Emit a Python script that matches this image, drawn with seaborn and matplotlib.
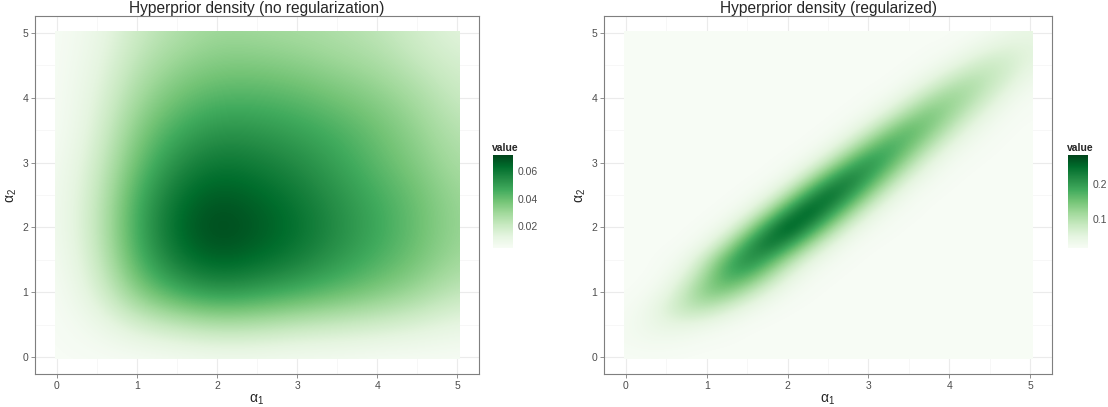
import numpy as np
import matplotlib
matplotlib.use("Agg")
import matplotlib.pyplot as plt
from matplotlib.patches import Rectangle
import seaborn as sns

# grid nodes (alpha_1 along columns, alpha_2 along rows)
alpha_left = [0, 0.5, 1, 1.5, 2, 2.5, 3, 3.5, 4, 4.5, 5]
dens_left = [
    [0.004, 0.004, 0.004, 0.005, 0.006, 0.006, 0.005, 0.005, 0.004, 0.004, 0.004],
    [0.004, 0.008, 0.017, 0.022, 0.026, 0.025, 0.022, 0.020, 0.018, 0.015, 0.011],
    [0.004, 0.015, 0.035, 0.047, 0.053, 0.050, 0.046, 0.041, 0.036, 0.030, 0.022],
    [0.005, 0.019, 0.045, 0.061, 0.067, 0.064, 0.059, 0.052, 0.045, 0.038, 0.029],
    [0.006, 0.021, 0.048, 0.065, 0.072, 0.068, 0.063, 0.055, 0.048, 0.040, 0.031],
    [0.006, 0.020, 0.046, 0.062, 0.068, 0.065, 0.060, 0.053, 0.046, 0.039, 0.030],
    [0.005, 0.018, 0.040, 0.055, 0.061, 0.059, 0.055, 0.049, 0.042, 0.035, 0.027],
    [0.004, 0.015, 0.035, 0.047, 0.053, 0.052, 0.049, 0.045, 0.039, 0.032, 0.024],
    [0.004, 0.013, 0.029, 0.039, 0.044, 0.044, 0.042, 0.038, 0.034, 0.028, 0.020],
    [0.004, 0.011, 0.024, 0.032, 0.036, 0.036, 0.034, 0.031, 0.028, 0.022, 0.017],
    [0.004, 0.009, 0.020, 0.026, 0.030, 0.029, 0.028, 0.026, 0.023, 0.018, 0.013],
]

alpha_right = [0, 0.25, 0.5, 0.75, 1, 1.25, 1.5, 1.75, 2, 2.25, 2.5, 2.75, 3, 3.25, 3.5, 3.75, 4, 4.25, 4.5, 4.75, 5]
dens_right = [
    [0.018, 0.019, 0.019, 0.018, 0.018, 0.018, 0.018, 0.018, 0.018, 0.018, 0.018, 0.018, 0.018, 0.018, 0.018, 0.018, 0.018, 0.018, 0.018, 0.018, 0.018],
    [0.024, 0.028, 0.027, 0.024, 0.020, 0.019, 0.018, 0.018, 0.018, 0.018, 0.018, 0.018, 0.018, 0.018, 0.018, 0.018, 0.018, 0.018, 0.018, 0.018, 0.018],
    [0.024, 0.036, 0.048, 0.046, 0.036, 0.026, 0.020, 0.018, 0.018, 0.018, 0.018, 0.018, 0.018, 0.018, 0.018, 0.018, 0.018, 0.018, 0.018, 0.018, 0.018],
    [0.021, 0.033, 0.064, 0.095, 0.092, 0.064, 0.038, 0.024, 0.019, 0.018, 0.018, 0.018, 0.018, 0.018, 0.018, 0.018, 0.018, 0.018, 0.018, 0.018, 0.018],
    [0.018, 0.023, 0.043, 0.094, 0.145, 0.138, 0.094, 0.050, 0.027, 0.020, 0.018, 0.018, 0.018, 0.018, 0.018, 0.018, 0.018, 0.018, 0.018, 0.018, 0.018],
    [0.018, 0.018, 0.027, 0.061, 0.130, 0.190, 0.173, 0.112, 0.052, 0.027, 0.020, 0.018, 0.018, 0.018, 0.018, 0.018, 0.018, 0.018, 0.018, 0.018, 0.018],
    [0.018, 0.018, 0.021, 0.035, 0.092, 0.177, 0.230, 0.188, 0.114, 0.050, 0.027, 0.020, 0.018, 0.018, 0.018, 0.018, 0.018, 0.018, 0.018, 0.018, 0.018],
    [0.018, 0.018, 0.018, 0.021, 0.038, 0.102, 0.199, 0.260, 0.212, 0.126, 0.055, 0.027, 0.020, 0.018, 0.018, 0.018, 0.018, 0.018, 0.018, 0.018, 0.018],
    [0.018, 0.018, 0.018, 0.018, 0.022, 0.039, 0.109, 0.213, 0.283, 0.226, 0.135, 0.057, 0.028, 0.021, 0.018, 0.018, 0.018, 0.018, 0.018, 0.018, 0.018],
    [0.018, 0.018, 0.018, 0.018, 0.018, 0.022, 0.039, 0.108, 0.211, 0.278, 0.224, 0.134, 0.057, 0.028, 0.021, 0.018, 0.018, 0.018, 0.018, 0.018, 0.018],
    [0.018, 0.018, 0.018, 0.018, 0.018, 0.018, 0.022, 0.038, 0.104, 0.203, 0.265, 0.216, 0.129, 0.056, 0.027, 0.020, 0.018, 0.018, 0.018, 0.018, 0.018],
    [0.018, 0.018, 0.018, 0.018, 0.018, 0.018, 0.018, 0.021, 0.036, 0.098, 0.189, 0.245, 0.199, 0.120, 0.052, 0.028, 0.020, 0.018, 0.018, 0.018, 0.018],
    [0.018, 0.018, 0.018, 0.018, 0.018, 0.018, 0.018, 0.018, 0.021, 0.034, 0.088, 0.169, 0.220, 0.180, 0.109, 0.048, 0.026, 0.020, 0.018, 0.018, 0.018],
    [0.018, 0.018, 0.018, 0.018, 0.018, 0.018, 0.018, 0.018, 0.018, 0.020, 0.032, 0.080, 0.151, 0.195, 0.159, 0.098, 0.045, 0.026, 0.020, 0.018, 0.018],
    [0.018, 0.018, 0.018, 0.018, 0.018, 0.018, 0.018, 0.018, 0.018, 0.018, 0.020, 0.031, 0.073, 0.136, 0.175, 0.143, 0.089, 0.042, 0.025, 0.019, 0.018],
    [0.018, 0.018, 0.018, 0.018, 0.018, 0.018, 0.018, 0.018, 0.018, 0.018, 0.018, 0.020, 0.029, 0.064, 0.118, 0.152, 0.125, 0.078, 0.039, 0.023, 0.019],
    [0.018, 0.018, 0.018, 0.018, 0.018, 0.018, 0.018, 0.018, 0.018, 0.018, 0.018, 0.018, 0.020, 0.027, 0.058, 0.103, 0.130, 0.108, 0.069, 0.034, 0.022],
    [0.018, 0.018, 0.018, 0.018, 0.018, 0.018, 0.018, 0.018, 0.018, 0.018, 0.018, 0.018, 0.018, 0.019, 0.026, 0.050, 0.086, 0.108, 0.090, 0.059, 0.031],
    [0.018, 0.018, 0.018, 0.018, 0.018, 0.018, 0.018, 0.018, 0.018, 0.018, 0.018, 0.018, 0.018, 0.018, 0.019, 0.024, 0.041, 0.068, 0.085, 0.072, 0.048],
    [0.018, 0.018, 0.018, 0.018, 0.018, 0.018, 0.018, 0.018, 0.018, 0.018, 0.018, 0.018, 0.018, 0.018, 0.018, 0.019, 0.021, 0.034, 0.051, 0.062, 0.053],
    [0.018, 0.018, 0.018, 0.018, 0.018, 0.018, 0.018, 0.018, 0.018, 0.018, 0.018, 0.018, 0.018, 0.018, 0.018, 0.018, 0.018, 0.020, 0.027, 0.038, 0.045],
]

axis_ticks = [0, 1, 2, 3, 4, 5]
minor_ticks = [0.5, 1.5, 2.5, 3.5, 4.5]
titles = ["Hyperprior density (no regularization)", "Hyperprior density (regularized)"]
cbar_ticks_left = [0.02, 0.04, 0.06]
cbar_ticks_right = [0.1, 0.2]

sns.set_theme(style="whitegrid")
plt.rcParams['font.family'] = ['Liberation Sans', 'DejaVu Sans']
plt.rcParams['mathtext.default'] = 'regular'
cmap = sns.color_palette("Greens", as_cmap=True)

fig = plt.figure(figsize=(11.08, 4.07), dpi=100)
W, H = 1108, 407

panels = [
    (alpha_left, dens_left, titles[0], cbar_ticks_left, [35, 444], 493),
    (alpha_right, dens_right, titles[1], cbar_ticks_right, [604, 448], 1068),
]

for grid, dens, title, cticks, (x0, w), cx in panels:
    ax = fig.add_axes([x0 / W, 1 - 374 / H, w / W, 358 / H])
    z = np.array(dens)
    half = (grid[1] - grid[0]) / 2
    ext = (grid[0] - half, grid[-1] + half, grid[0] - half, grid[-1] + half)
    im = ax.imshow(z, origin='lower', extent=ext, aspect='auto', cmap=cmap,
                   interpolation='bicubic', interpolation_stage='data',
                   vmin=z.min(), vmax=z.max(), zorder=2)
    im.set_clip_path(Rectangle((-0.025, -0.025), 5.05, 5.05, transform=ax.transData))
    ax.set_xlim(-0.27, 5.27)
    ax.set_ylim(-0.26, 5.26)
    ax.set_xticks(axis_ticks)
    ax.set_yticks(axis_ticks)
    ax.set_xticks(minor_ticks, minor=True)
    ax.set_yticks(minor_ticks, minor=True)
    ax.set_axisbelow(True)
    ax.grid(which='major', color='#ebebeb', lw=0.8)
    ax.grid(which='minor', color='#f4f4f4', lw=0.5)
    ax.tick_params(which='major', bottom=True, left=True, length=3, width=0.6,
                   color='#7f7f7f', labelsize=7.5, labelcolor='#4d4d4d', pad=2)
    ax.tick_params(which='minor', length=0)
    for s in ax.spines.values():
        s.set_color('#7f7f7f')
        s.set_linewidth(0.8)
    ax.set_title(title, fontsize=11.2, pad=2)
    ax.set_xlabel(r'$\alpha_1$', fontsize=10, labelpad=1)
    ax.set_ylabel(r'$\alpha_2$', fontsize=10, labelpad=2)

    cax = fig.add_axes([cx / W, 1 - 248 / H, 20 / W, 93 / H])
    cb = fig.colorbar(im, cax=cax, ticks=cticks)
    cb.outline.set_visible(False)
    cax.grid(False)
    cax.tick_params(direction='in', length=3, width=0.8, color='white',
                    left=True, right=True, labelleft=False, labelright=True,
                    labelsize=7.5, labelcolor='#4d4d4d', pad=3)
    fig.text((cx - 1) / W, 1 - 151 / H, 'value', fontsize=7.5,
             fontweight='bold', ha='left', va='baseline')

fig.savefig('out.png', dpi=100)
